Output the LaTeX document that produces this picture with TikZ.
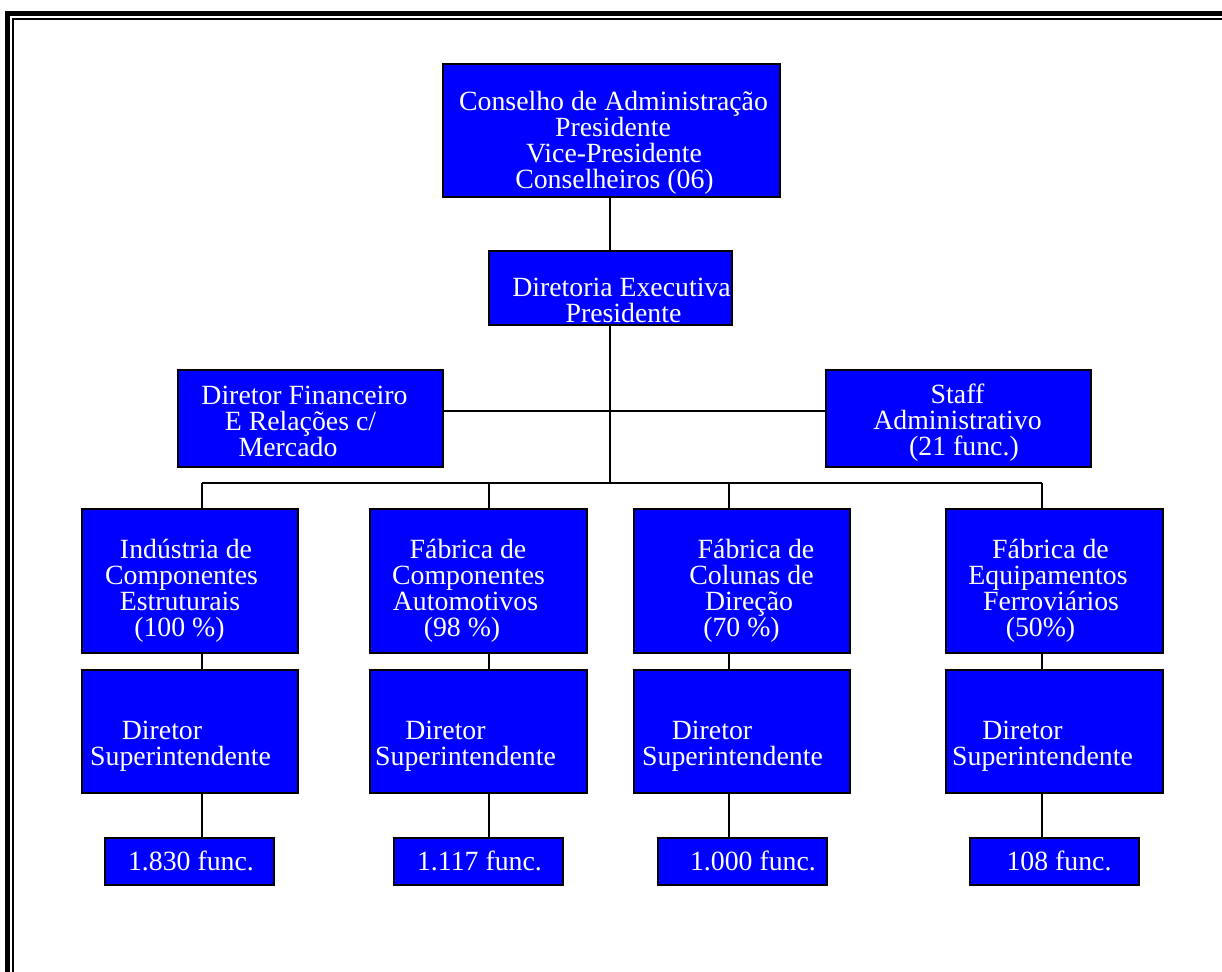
\documentclass[tikz,border=0pt]{standalone}
\usepackage{fontspec}
\setmainfont{Liberation Serif}
\newcommand\orgfont{\fontsize{27.8}{26}\selectfont}
% one centred line, moved sideways by #1 pt
\newcommand\orgline[2]{\makebox[0pt]{\kern#1pt\kern#1pt #2}}
\tikzset{
  orgbox/.style={draw=black, line width=2pt, fill=blue, inner sep=0pt, anchor=north west},
  % the base anchor of a multi-line text sits on its last line
  orgtext/.style={text=white, font=\orgfont, align=center, anchor=base, inner sep=0pt},
  link/.style={draw=black, line width=1.6pt},
}
\begin{document}
\begin{tikzpicture}[x=1pt, y=-1pt]
\useasboundingbox (0,0) rectangle (1222,971);
\fill[white] (0,0) rectangle (1222,971);
% double frame
\draw[line width=5pt] (7.5,14) rectangle (1250,1000);
\draw[line width=2pt] (13,19) rectangle (1250,1000);

% connector levels and drop points
\coordinate (lvl) at (610,411);
\coordinate (bus) at (610,483);
\coordinate (drop1) at (202,483);
\coordinate (drop2) at (489,483);
\coordinate (drop3) at (729,483);
\coordinate (drop4) at (1042,483);

% boxes
\node[orgbox, minimum width=337pt, minimum height=133pt] (conselho) at (442,63) {};
\node[orgbox, minimum width=243pt, minimum height=74pt] (diretoria) at (488,250) {};
\node[orgbox, minimum width=265pt, minimum height=97pt] (financeiro) at (177,369) {};
\node[orgbox, minimum width=265pt, minimum height=97pt] (staff) at (825,369) {};

\node[orgbox, minimum width=216pt, minimum height=144pt] (ind) at (81,508) {};
\node[orgbox, minimum width=217pt, minimum height=144pt] (auto) at (369,508) {};
\node[orgbox, minimum width=216pt, minimum height=144pt] (col) at (633,508) {};
\node[orgbox, minimum width=217pt, minimum height=144pt] (fer) at (945,508) {};

\node[orgbox, minimum width=216pt, minimum height=123pt] (sup1) at (81,669) {};
\node[orgbox, minimum width=217pt, minimum height=123pt] (sup2) at (369,669) {};
\node[orgbox, minimum width=216pt, minimum height=123pt] (sup3) at (633,669) {};
\node[orgbox, minimum width=217pt, minimum height=123pt] (sup4) at (945,669) {};

\node[orgbox, minimum width=169pt, minimum height=47pt] (func1) at (104,837) {};
\node[orgbox, minimum width=169pt, minimum height=47pt] (func2) at (393,837) {};
\node[orgbox, minimum width=169pt, minimum height=47pt] (func3) at (657,837) {};
\node[orgbox, minimum width=169pt, minimum height=47pt] (func4) at (969,837) {};

% connectors
\draw[link] (conselho.south -| bus) -- (diretoria.north -| bus);
\draw[link] (diretoria.south -| bus) -- (bus);
\draw[link] (financeiro.east |- lvl) -- (staff.west |- lvl);
\draw[link] (drop1) -- (drop4);
\foreach \i/\a/\b/\c in {1/ind/sup1/func1, 2/auto/sup2/func2, 3/col/sup3/func3, 4/fer/sup4/func4}{
  \draw[link] (drop\i) -- (drop\i |- \a.north);
  \draw[link] (drop\i |- \a.south) -- (drop\i |- \b.north);
  \draw[link] (drop\i |- \b.south) -- (drop\i |- \c.north);
}

% texts (positions are the baselines of the last lines)
\node[orgtext] (conselho-t) at (610.5,188) {\orgline{3}{Conselho de Administração}\\\orgline{2.5}{Presidente}\\\orgline{3.5}{Vice-Presidente}\\\orgline{4}{Conselheiros (06)}};
\node[orgtext] (diretoria-t) at (609.5,322) {\orgline{12}{Diretoria Executiva}\\\orgline{14}{Presidente}};
\node[orgtext] (financeiro-t) at (309.5,456) {\orgline{-5}{Diretor Financeiro}\\\orgline{-9}{E Relações c/}\\\orgline{-21.5}{Mercado}};
\node[orgtext] (staff-t) at (957.5,455) {\orgline{0}{Staff}\\\orgline{0}{Administrativo}\\\orgline{6.5}{(21 func.)}};

\node[orgtext] (ind-t) at (189,636) {\orgline{-3}{Indústria de}\\\orgline{-7.5}{Componentes}\\\orgline{-9}{Estruturais}\\\orgline{-9.5}{(100 \%)}};
\node[orgtext] (auto-t) at (477.5,636) {\orgline{-9.5}{Fábrica de}\\\orgline{-9}{Componentes}\\\orgline{-12}{Automotivos}\\\orgline{-15.5}{(98 \%)}};
\node[orgtext] (col-t) at (741,636) {\orgline{15}{Fábrica de}\\\orgline{10.5}{Colunas de}\\\orgline{8}{Direção}\\\orgline{0.5}{(70 \%)}};
\node[orgtext] (fer-t) at (1053.5,636) {\orgline{-3}{Fábrica de}\\\orgline{-5.5}{Equipamentos}\\\orgline{-2.5}{Ferroviários}\\\orgline{-13}{(50\%)}};

\node[orgtext] (sup1-t) at (189,765) {\orgline{-27}{Diretor}\\\orgline{-8.5}{Superintendente}};
\node[orgtext] (sup2-t) at (477.5,765) {\orgline{-32}{Diretor}\\\orgline{-12}{Superintendente}};
\node[orgtext] (sup3-t) at (741,765) {\orgline{-29}{Diretor}\\\orgline{-8.5}{Superintendente}};
\node[orgtext] (sup4-t) at (1053.5,765) {\orgline{-31}{Diretor}\\\orgline{-11}{Superintendente}};

\node[orgtext] (func1-t) at (188.5,870) {\orgline{2.5}{1.830 func.}};
\node[orgtext] (func2-t) at (477.5,870) {\orgline{2}{1.117 func.}};
\node[orgtext] (func3-t) at (741.5,870) {\orgline{11.5}{1.000 func.}};
\node[orgtext] (func4-t) at (1053.5,870) {\orgline{5.5}{108 func.}};
\end{tikzpicture}
\end{document}
